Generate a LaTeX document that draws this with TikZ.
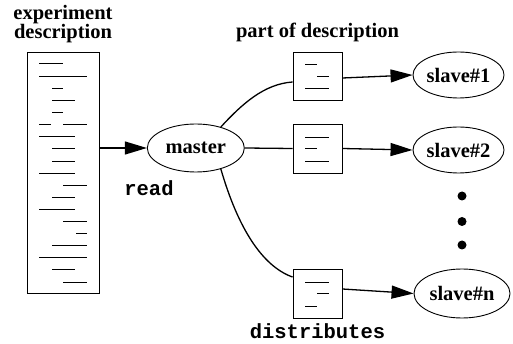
\documentclass[tikz,border=0pt]{standalone}
\usepackage{fontspec}
\setmainfont{Liberation Serif}
\setmonofont{Liberation Mono}
\usetikzlibrary{arrows.meta,shapes.geometric,calc}

\tikzset{
  lbl/.style={font=\fontsize{20.5}{18}\selectfont\bfseries, inner sep=0pt},
  ttlbl/.style={font=\fontsize{20.5}{18}\selectfont\ttfamily\bfseries, inner sep=0pt},
  proc/.style={ellipse, draw, line width=0.9pt, inner sep=0pt,
               font=\fontsize{20.5}{18}\selectfont\bfseries},
  docbox/.style={draw, line width=0.9pt, inner sep=0pt},
  txtline/.style={line width=0.9pt},
  conn/.style={line width=1.3pt},
  arr/.style={conn, -{Triangle[length=22pt,width=13pt]}},
  dot/.style={circle, fill, inner sep=0pt, minimum size=9pt}
}

\begin{document}
\begin{tikzpicture}[x=1pt,y=-1pt]
\useasboundingbox (0,0) rectangle (513,344);

% captions
\node[lbl, align=center] (capexp) at (63,24) {experiment\\description};
\node[lbl, anchor=base] (cappart) at (317.5,38) {part of description};
\node[ttlbl, anchor=base] (capread) at (149,196) {read};
\node[ttlbl, anchor=base] (capdist) at (317.5,338) {distributes};

% full experiment description
\node[docbox, minimum width=72pt, minimum height=241pt] (desc) at (63,172.5) {};
\foreach \y/\a/\b in {63/39/63, 76/39/87, 88/52/63, 100/52/75, 112/52/63,
    124/39/51, 124/63/87, 136/39/75, 148/52/75, 161/52/75, 173/39/75,
    185/63/87, 197/52/75, 209/39/75, 221/63/87, 233/76/87, 245/52/87,
    257/39/87, 269/52/75, 282/63/87}
  \draw[txtline] (\a,\y) -- (\b,\y);

% master
\node[proc, minimum width=97pt, minimum height=48pt] (master) at (195.8,148) {master};

% parts of the description
\node[docbox, minimum width=49pt, minimum height=48pt] (part1) at (317.5,76) {};
\node[docbox, minimum width=49pt, minimum height=49pt] (part2) at (317.5,148.5) {};
\node[docbox, minimum width=49pt, minimum height=49pt] (part3) at (317.5,293.5) {};

\foreach \y/\a/\b in {64/305/317, 76/317/329, 88/305/329,
    137/305/329, 148/305/317, 161/305/329,
    282/305/329, 293/317/329, 306/305/317}
  \draw[txtline] (\a,\y) -- (\b,\y);

% slaves
\node[proc, minimum width=91pt, minimum height=46pt] (s1) at (458.5,75) {slave\#1};
\node[proc, minimum width=91pt, minimum height=46pt] (s2) at (458.5,150) {slave\#2};
\node[proc, minimum width=96pt, minimum height=49pt] (sn) at (462,293.5) {slave\#n};

\node[dot] (d1) at (462,196) {};
\node[dot] (d2) at (462,221.5) {};
\node[dot] (d3) at (462,245) {};

% connectors
\draw[arr] (desc.east |- master.west) -- (master.west);
\draw[conn] (master.40) .. controls (242,104) and (264,84) .. ([yshift=-6pt]part1.west);
\draw[conn] (master.east) -- (part2.west);
\draw[conn] (master.-40) .. controls (238,228) and (262,266) .. ([yshift=-8.5pt]part3.north west);

\draw[arr] ([yshift=-2pt]part1.east) -- (s1.west);
\draw[arr] (part2.east) -- (s2.west);
\draw[arr] ([yshift=4.5pt]part3.east) -- (sn.west);
\end{tikzpicture}
\end{document}
